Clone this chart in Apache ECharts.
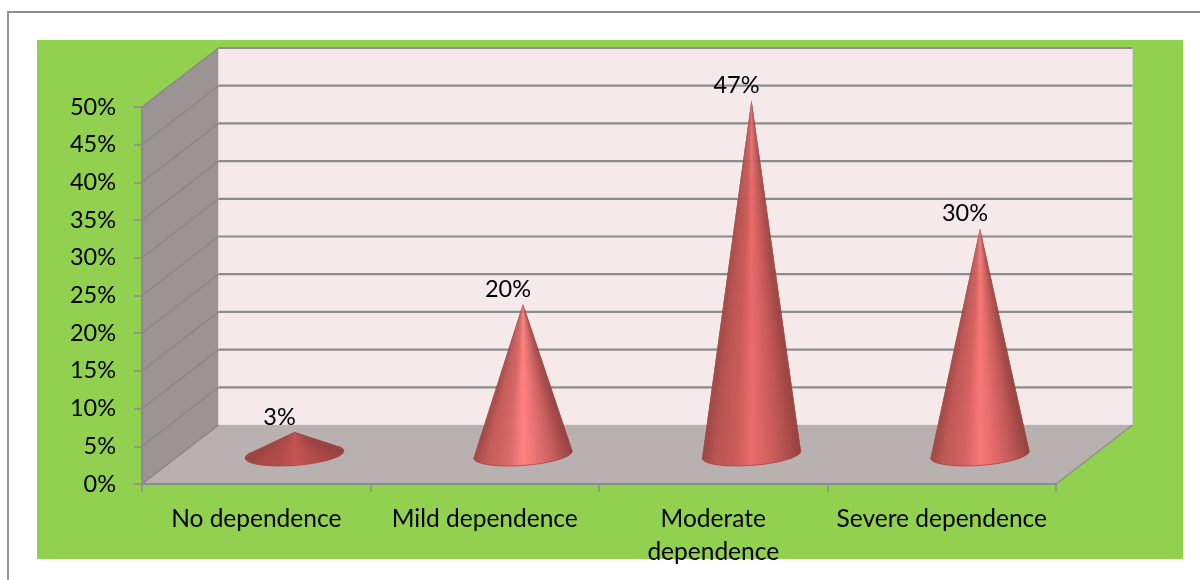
<!DOCTYPE html>
<html>
<head>
<meta charset="utf-8">
<style>html,body{margin:0;padding:0;background:#fff}#chart{width:1200px;height:580px}</style>
<script src="https://cdn.jsdelivr.net/npm/echarts@6/dist/echarts.min.js"></script>
</head>
<body>
<div id="chart"></div>
<script>
// Share of respondents by level of dependence
const categories = ['No dependence', 'Mild dependence', 'Moderate\ndependence', 'Severe dependence'];
const shares = [3, 20, 47, 30];
const valueTicks = [0, 5, 10, 15, 20, 25, 30, 35, 40, 45, 50];

// Brightest tone of each cone's shading
const coneHighlights = ['#c65452', '#ff8280', '#ea6c6a', '#f97876'];
const coneEdge = [150, 66, 64];
const labelFont = 'Lato';
const valueLabelSize = 23.5;
const categoryLabelSize = 24.5;

// Oblique projection: the box recedes by this offset from the front plane
const DEPTH_X = 76.5;
const DEPTH_Y = 59;
const LINE = '#8c8c8c';

function hexToRgb(h) {
  return [1, 3, 5].map(i => parseInt(h.substr(i, 2), 16));
}
// Horizontal shading profile of a cone, 0 = edge tone, 1 = highlight
const shadeStops = [[0, 0.1], [0.12, 0.42], [0.34, 0.62], [0.5, 1], [0.62, 0.82], [0.8, 0.48], [1, 0]];
function shade(u, peak) {
  let s = 0;
  for (let i = 1; i < shadeStops.length; i++) {
    const a = shadeStops[i - 1], b = shadeStops[i];
    if (u <= b[0]) { s = a[1] + (b[1] - a[1]) * (u - a[0]) / (b[0] - a[0]); break; }
  }
  const c = coneEdge.map((e, k) => Math.round(e + (peak[k] - e) * s));
  return 'rgb(' + c.join(',') + ')';
}

// Back wall, side wall, floor and their gridlines
function renderBox(params, api) {
  const g = params.coordSys;
  const left = g.x, right = g.x + g.width;
  const y0 = api.coord([0, 0])[1], yTop = api.coord([0, valueTicks[valueTicks.length - 1]])[1];
  const children = [
    { type: 'polygon', shape: { points: [[left, yTop], [left + DEPTH_X, yTop - DEPTH_Y], [left + DEPTH_X, y0 - DEPTH_Y], [left, y0]] },
      style: { fill: '#9c9494' } },
    { type: 'rect', shape: { x: left + DEPTH_X, y: yTop - DEPTH_Y, width: g.width, height: y0 - yTop },
      style: { fill: '#f5e9e9', stroke: '#ddd6d6', lineWidth: 1 } },
    { type: 'polygon', shape: { points: [[left, y0], [left + DEPTH_X, y0 - DEPTH_Y], [right + DEPTH_X, y0 - DEPTH_Y], [right, y0]] },
      style: { fill: '#b9b0b0' } },
    { type: 'line', shape: { x1: right, y1: y0, x2: right + DEPTH_X, y2: y0 - DEPTH_Y },
      style: { stroke: '#909090', lineWidth: 1.5 } }
  ];
  valueTicks.forEach(v => {
    const y = api.coord([0, v])[1];
    children.push({ type: 'line', shape: { x1: left, y1: y, x2: left + DEPTH_X, y2: y - DEPTH_Y },
      style: { stroke: '#878787', lineWidth: 1.4 } });
    if (v > 0) {
      children.push({ type: 'line', shape: { x1: left + DEPTH_X, y1: y - DEPTH_Y, x2: right + DEPTH_X, y2: y - DEPTH_Y },
        style: { stroke: LINE, lineWidth: 2.2 } });
    }
  });
  return { type: 'group', children };
}

// One cone: wedge facets from the tip to the visible part of the base ellipse
function renderCone(params, api) {
  const idx = api.value(0), val = api.value(1);
  const front = api.coord([idx, 0]);
  const top = api.coord([idx, val]);
  const cx = front[0] + DEPTH_X / 2, cy = front[1] - DEPTH_Y / 2;
  const h = front[1] - top[1];
  const band = api.size([1, 0])[0];
  const a = band * 0.2057, dx = 15, dy = 11.5;
  const tip = [cx, cy - h];

  // Tangent points of the tip on the base, solved in the circle's own plane
  const beta = h / dy, alpha = -dx * beta / a;
  const rho = Math.hypot(alpha, beta);
  const phi = Math.atan2(beta, alpha);
  const spread = Math.acos(1 / Math.max(rho, 1.0001));
  const tStart = phi + spread, tEnd = phi - spread + Math.PI * 2;

  const at = t => [cx + a * Math.cos(t) + dx * Math.sin(t), cy - dy * Math.sin(t)];
  const steps = 72, arc = [];
  for (let i = 0; i <= steps; i++) arc.push(at(tStart + (tEnd - tStart) * i / steps));
  const xs = arc.map(p => p[0]);
  const minX = Math.min.apply(null, xs), maxX = Math.max.apply(null, xs);
  const peak = hexToRgb(coneHighlights[params.dataIndex]);

  // Each facet reaches one step past its end, so the next one paints over the seam
  const children = [];
  for (let i = 0; i < steps; i++) {
    const mid = (arc[i][0] + arc[i + 1][0]) / 2;
    const points = [tip, arc[i], arc[i + 1]];
    if (i + 2 <= steps) points.push(arc[i + 2]);
    children.push({ type: 'polygon', shape: { points },
      style: { fill: shade((mid - minX) / (maxX - minX), peak) } });
  }
  children.push({ type: 'polyline', shape: { points: arc },
    style: { fill: null, stroke: '#ad4442', lineWidth: 0.8 } });
  children.push({ type: 'text', z2: 10,
    style: { text: val + '%', x: tip[0] - 15, y: tip[1] - 14.5, align: 'center', verticalAlign: 'middle',
      fontFamily: labelFont, fontSize: valueLabelSize, fill: '#000' } });
  return { type: 'group', children };
}

const chart = echarts.init(document.getElementById('chart'), null, { renderer: 'canvas' });
chart.setOption({
  animation: false,
  backgroundColor: '#ffffff',
  graphic: [
    { type: 'polyline', z: -2, silent: true, shape: { points: [[8, 580], [8, 12], [1200, 12]] },
      style: { fill: null, stroke: LINE, lineWidth: 1.8 } },
    { type: 'rect', z: -1, silent: true, shape: { x: 37, y: 40, width: 1146, height: 519 },
      style: { fill: '#92d050' } }
  ],
  grid: { left: 142, top: 107, width: 914, height: 377, containLabel: false },
  xAxis: {
    type: 'category', data: categories, z: 5,
    axisLine: { lineStyle: { color: LINE, width: 2 } },
    axisTick: { show: true, alignWithLabel: false, length: 8, lineStyle: { color: LINE, width: 1.5 } },
    axisLabel: { interval: 0, color: '#000', fontFamily: labelFont, fontSize: categoryLabelSize, lineHeight: 33, margin: 19 }
  },
  yAxis: {
    type: 'value', min: 0, max: 50, interval: 5, z: 5,
    axisLine: { show: true, lineStyle: { color: LINE, width: 2 } },
    axisTick: { show: true, length: 8, lineStyle: { color: LINE, width: 1.5 } },
    splitLine: { show: false },
    axisLabel: { formatter: '{value}%', color: '#000', fontFamily: labelFont, fontSize: valueLabelSize, margin: 26, padding: [6, 0, 0, 0] }
  },
  series: [
    { type: 'custom', name: 'box', z: 1, silent: true, clip: false, renderItem: renderBox, data: [[0, 0]] },
    { type: 'custom', name: 'Share', z: 3, silent: true, clip: false, renderItem: renderCone,
      encode: { x: 0, y: 1 }, data: shares.map((v, i) => [i, v]) }
  ]
});
</script>
</body>
</html>
